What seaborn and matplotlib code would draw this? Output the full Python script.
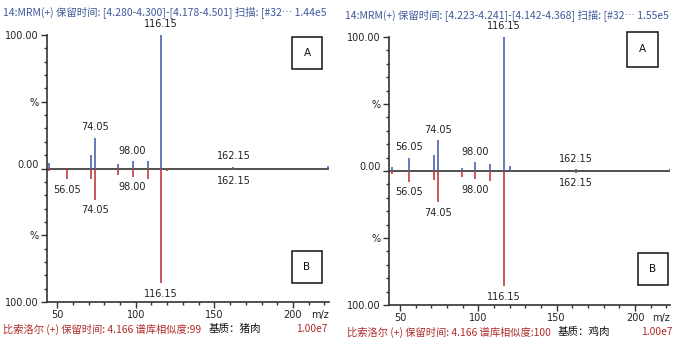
import matplotlib
matplotlib.use("Agg")
import matplotlib.pyplot as plt
import matplotlib.transforms as mtrans
from matplotlib.patches import Rectangle
from matplotlib.ticker import FixedLocator, MultipleLocator
import seaborn as sns

sns.set_theme(style="white")
plt.rcParams['font.family'] = ['DejaVu Sans', 'Noto Sans CJK SC']
CJK = ['Noto Sans CJK SC', 'DejaVu Sans']

# ---------------- data ----------------
left_mz_ref = [44.6, 71.5, 74.05, 89.0, 98.0, 107.5, 116.15, 162.15, 222.5]
left_int_ref = [3.8, 10, 23, 3.3, 5.5, 5.5, 100, 1.2, 1.5]
left_mz_lib = [44.6, 56.05, 71.5, 74.05, 89.0, 98.0, 107.5, 116.15, 119.8, 162.15, 222.5]
left_int_lib = [2, 8, 7.5, 23.5, 4.8, 6, 7.7, 86, 2, 1.2, 1]
left_ref_labels = [74.05, 98.00, 116.15, 162.15]
left_lib_labels = [56.05, 74.05, 98.00, 116.15, 162.15]

right_mz_ref = [45.0, 56.05, 72.0, 74.05, 89.5, 98.0, 107.5, 116.15, 120.0, 162.15, 222.0]
right_int_ref = [3, 10, 11.7, 23, 2.5, 6.5, 5.5, 100, 3.5, 1.2, 1.7]
right_mz_lib = [45.0, 56.05, 72.0, 74.05, 89.5, 98.0, 107.5, 116.15, 162.15, 222.0]
right_int_lib = [2, 8, 7, 23.5, 4.7, 6, 7.5, 86, 1.2, 1]
right_ref_labels = [56.05, 74.05, 98.00, 116.15, 162.15]
right_lib_labels = [56.05, 74.05, 98.00, 116.15, 162.15]

x_ticks = [50, 100, 150, 200]
y_tick_vals = [100, 50, 0, -50, -100]
y_tick_text = ["100.00", "%", "0.00", "%", "100.00"]

left_title = "14:MRM(+) 保留时间: [4.280-4.300]-[4.178-4.501] 扫描: [#32⋯ 1.44e5"
right_title = "14:MRM(+) 保留时间: [4.223-4.241]-[4.142-4.368] 扫描: [#32⋯ 1.55e5"
left_foot = "比索洛尔 (+) 保留时间: 4.166 谱库相似度:99"
right_foot = "比索洛尔 (+) 保留时间: 4.166 谱库相似度:100"
left_matrix = "基质：猪肉"
right_matrix = "基质：鸡肉"
scale_text = "1.00e7"

BLUE = "#4a63ad"
RED = "#c0393b"
DARK = "#333333"
TBLUE = "#3f5b9c"
TRED = "#b02a2a"

fig = plt.figure(figsize=(6.8, 3.4), dpi=100)


def panel(rect, xlim, mz_ref, int_ref, mz_lib, int_lib, ref_lab, lib_lab, boxA, boxB):
    ax = fig.add_axes(rect)
    ax.set_xlim(*xlim)
    ax.set_ylim(-100, 100)
    ax.vlines(mz_ref, 0, int_ref, color=BLUE, lw=1.2, zorder=3)
    ax.vlines(mz_lib, 0, [-v for v in int_lib], color=RED, lw=1.2, zorder=3)
    ax.axhline(0, color=DARK, lw=1.2, zorder=2)
    for m in ref_lab:
        i = min(range(len(mz_ref)), key=lambda k: abs(mz_ref[k] - m))
        ax.annotate(f"{m:.2f}", (mz_ref[i], int_ref[i]), xytext=(0, 4),
                    textcoords="offset points", ha="center", va="bottom",
                    fontsize=7, color="#222222")
    for m in lib_lab:
        i = min(range(len(mz_lib)), key=lambda k: abs(mz_lib[k] - m))
        ax.annotate(f"{m:.2f}", (mz_lib[i], -int_lib[i]), xytext=(0, -4),
                    textcoords="offset points", ha="center", va="top",
                    fontsize=7, color="#222222")
    sns.despine(ax=ax, top=True, right=True)
    for s in ("left", "bottom"):
        ax.spines[s].set_color(DARK)
        ax.spines[s].set_linewidth(1.2)
    ax.yaxis.set_major_locator(FixedLocator(y_tick_vals))
    ax.set_yticklabels(y_tick_text)
    ax.yaxis.set_minor_locator(MultipleLocator(10))
    ax.xaxis.set_major_locator(FixedLocator(x_ticks))
    ax.set_xticklabels([str(v) for v in x_ticks])
    ax.xaxis.set_minor_locator(MultipleLocator(10))
    ax.tick_params(axis="both", which="major", direction="out", length=4,
                   width=1, color=DARK, labelsize=7, labelcolor="#222222", pad=2)
    ax.tick_params(axis="both", which="minor", direction="out", length=2.5,
                   width=1, color=DARK)
    ax.tick_params(axis="x", which="major", pad=1.5)
    ax.tick_params(left=True, bottom=True, which="both")
    off = mtrans.ScaledTranslation(0, 5 / 100, fig.dpi_scale_trans)
    for t in ax.yaxis.get_major_ticks():
        if t.get_loc() == 0:
            t.label1.set_transform(t.label1.get_transform() + off)
    ax.text(1.0, -0.03, "m/z", transform=ax.transAxes, ha="right", va="top",
            fontsize=7, color="#222222")
    for (x0, y0, x1, y1), lab in ((boxA, "A"), (boxB, "B")):
        ax.add_patch(Rectangle((x0, y0), x1 - x0, y1 - y0, transform=ax.transAxes,
                               fill=False, ec="#111111", lw=1.1, clip_on=False))
        ax.text((x0 + x1) / 2, (y0 + y1) / 2, lab, transform=ax.transAxes,
                ha="center", va="center", fontsize=7.5, color="#111111")
    ax.grid(False)
    return ax


panel([47 / 680, 38 / 340, 282 / 680, 267 / 340], (43.6, 222.9),
      left_mz_ref, left_int_ref, left_mz_lib, left_int_lib,
      left_ref_labels, left_lib_labels,
      (0.869, 0.873, 0.975, 0.992), (0.869, 0.071, 0.975, 0.191))
panel([389 / 680, 35 / 340, 281 / 680, 268 / 340], (43.0, 222.3),
      right_mz_ref, right_int_ref, right_mz_lib, right_int_lib,
      right_ref_labels, right_lib_labels,
      (0.847, 0.888, 0.957, 1.019), (0.886, 0.075, 0.993, 0.194))

fig.text(3 / 680, 1 - 12 / 340, left_title, family=CJK, fontsize=7.5, color=TBLUE,
         ha="left", va="center")
fig.text(345 / 680, 1 - 15 / 340, right_title, family=CJK, fontsize=7.5, color=TBLUE,
         ha="left", va="center")
fig.text(3 / 680, 1 - 329 / 340, left_foot, family=CJK, fontsize=7.4, color=TRED,
         ha="left", va="center")
fig.text(209 / 680, 1 - 329 / 340, left_matrix, family=CJK, fontsize=7.6, color="#111111",
         ha="left", va="center")
fig.text(328 / 680, 1 - 329 / 340, scale_text, family=CJK, fontsize=7.4, color=TRED,
         ha="right", va="center")
fig.text(347 / 680, 1 - 332 / 340, right_foot, family=CJK, fontsize=7.4, color=TRED,
         ha="left", va="center")
fig.text(558 / 680, 1 - 332 / 340, right_matrix, family=CJK, fontsize=7.6, color="#111111",
         ha="left", va="center")
fig.text(673 / 680, 1 - 332 / 340, scale_text, family=CJK, fontsize=7.4, color=TRED,
         ha="right", va="center")

fig.savefig("out.png", dpi=100)
